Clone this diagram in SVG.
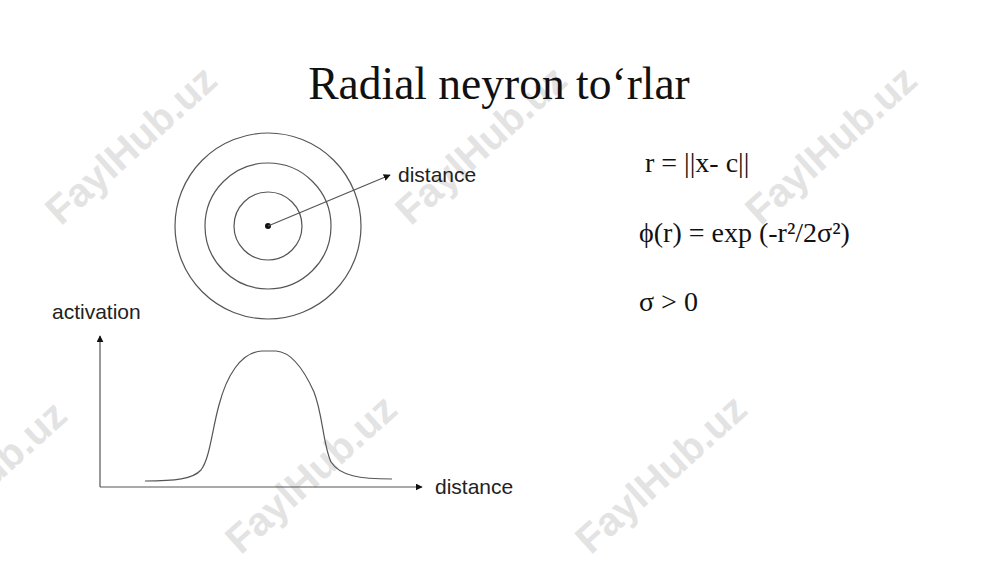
<svg xmlns="http://www.w3.org/2000/svg" width="1000" height="562" viewBox="0 0 1000 562">
<style>
.wm{font-family:"Liberation Sans",Arial,sans-serif;font-weight:bold;font-size:40px;fill:#e3e3e3;text-anchor:middle}
.lbl{font-family:"Liberation Sans",Arial,sans-serif;font-size:21px;fill:#222}
.f{font-family:"Liberation Serif","Times New Roman",serif;font-size:28px;fill:#111}
.ln{stroke:#555;stroke-width:1.2;fill:none}
</style>
<defs>
<marker id="ah" viewBox="0 0 10 10" refX="9" refY="5" markerWidth="7" markerHeight="7" markerUnits="userSpaceOnUse" orient="auto">
<path d="M0,0 L10,5 L0,10 z" fill="#111"/>
</marker>
</defs>
<rect width="1000" height="562" fill="#fff"/>
<g id="watermarks">
<text class="wm" transform="translate(140,155) rotate(-42)">FaylHub.uz</text>
<text class="wm" transform="translate(490,155) rotate(-42)">FaylHub.uz</text>
<text class="wm" transform="translate(840,155) rotate(-42)">FaylHub.uz</text>
<text class="wm" transform="translate(-10,490) rotate(-42)">FaylHub.uz</text>
<text class="wm" transform="translate(320,484) rotate(-42)">FaylHub.uz</text>
<text class="wm" transform="translate(670,484) rotate(-42)">FaylHub.uz</text>
</g>
<g id="title">
<text x="499" y="99" font-family="'Liberation Serif','Times New Roman',serif" font-size="45.5" fill="#111" text-anchor="middle">Radial neyron to‘rlar</text>
</g>
<g id="circles">
<circle class="ln" cx="268" cy="226" r="93"/>
<circle class="ln" cx="268" cy="226" r="63"/>
<circle class="ln" cx="268" cy="226" r="34"/>
<circle cx="268" cy="226" r="3" fill="#111"/>
<text class="lbl" x="398" y="182">distance</text>
</g>
<g id="graph">
<text class="lbl" x="52" y="319">activation</text>
<text class="lbl" x="435" y="494">distance</text>
<path class="ln" d="M145,481 C175,481 193,479 201,470 C210,458 212,430 219,405 C226,378 240,352 262,351 L276,351 C292,352 305,372 314,392 C323,415 323,445 331,462 C340,476 360,479 392,479"/>
</g>
<g id="connectors">
<line class="ln" x1="268" y1="226" x2="390" y2="175" marker-end="url(#ah)"/>
<line class="ln" x1="100" y1="487" x2="100" y2="336" marker-end="url(#ah)"/>
<line class="ln" x1="100" y1="487" x2="422" y2="487" marker-end="url(#ah)"/>
</g>
<g id="formulas">
<text class="f" x="645" y="172">r = ||x- c||</text>
<text class="f" x="639" y="242">ϕ(r) = exp (-r²/2σ²)</text>
<text class="f" x="639" y="311">σ &gt; 0</text>
</g>
</svg>
